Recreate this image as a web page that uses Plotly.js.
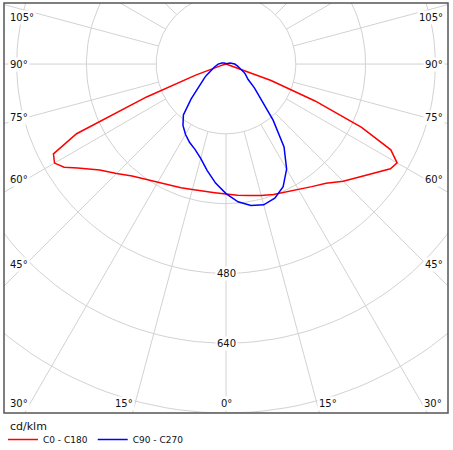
<!DOCTYPE html>
<html><head><meta charset="utf-8">
<script src="https://cdn.plot.ly/plotly-3.0.1.min.js"></script>
<style>html,body{margin:0;padding:0;background:#fff;} #chart{width:453px;height:450px;}</style>
</head><body><div id="chart"></div>
<script>
// ---- data ----
const gamma = [0,5,10,15,20,25,30,35,40,45,50,55,57.5,60,62.5,65,67.5,70,72.5,75,80,85,90,105,120,135,150,165,180];
const c0    = [300,302,306,312,318,324,332,343,357,380,402,431,447,453,426,343,221,110,22,8,3,1,0,0,0,0,0,0,0];
const c180  = [298,296,295,298,302,307,313,322,335,355,378,415,440,454,446,378,197,74,14,6,3,1,0,0,0,0,0,0,0];
const c90   = [297,317,329,334,327,310,278,232,168,115,85,62,58,54,50,46,42,38,34,31,27,23,20,10,5,3,2,1,0];
const c270  = [297,274,248,224,208,198,186,172,152,113,82,64,58,52,46,41,37,33,30,28,25,21,18,10,5,3,2,1,0];
const ringValues = [160,320,480,640,800];
const ringLabels = [480,640];
const spokeAngles = [0,15,30,45,60,75,90,105,120,135,150,165,180,195,210,225,240,255,270,285,300,315,330,345];
const angleLabels = [0,15,30,45,60,75,90,105];
const unitLabel = 'cd/klm';
const seriesNames = ['C0 - C180','C90 - C270'];

// ---- helpers ----
const rad = d => d*Math.PI/180;
const FONT = 'DejaVu Sans, Verdana, sans-serif';
const XR = [-509,509], YR = [-800,140];
const W = 453, H = 450, ML = 4, MR = 5, MT = 3, MB = 37;
const pxPerUnit = (W-ML-MR)/(XR[1]-XR[0]);
const plotH = H - MT - MB;

function halfCurve(right, left){
  const xs=[], ys=[];
  for(let i=gamma.length-1;i>=0;i--){ const g=rad(gamma[i]); xs.push(-left[i]*Math.sin(g)); ys.push(-left[i]*Math.cos(g)); }
  for(let i=1;i<gamma.length;i++){ const g=rad(gamma[i]); xs.push(right[i]*Math.sin(g)); ys.push(-right[i]*Math.cos(g)); }
  return {xs, ys};
}

const traces = [];
const gridStyle = {color:'#d2d2d2', width:1};
ringValues.forEach(r=>{
  const xs=[], ys=[];
  for(let t=0;t<=360;t+=2){ xs.push(r*Math.sin(rad(t))); ys.push(-r*Math.cos(rad(t))); }
  traces.push({type:'scatter', mode:'lines', x:xs, y:ys, line:gridStyle, hoverinfo:'skip', showlegend:false});
});
(function(){
  const xs=[], ys=[]; const r0=ringValues[0], r1=1100;
  spokeAngles.forEach(a=>{ const g=rad(a);
    xs.push(r0*Math.sin(g), r1*Math.sin(g), null); ys.push(-r0*Math.cos(g), -r1*Math.cos(g), null); });
  traces.push({type:'scatter', mode:'lines', x:xs, y:ys, line:gridStyle, hoverinfo:'skip', showlegend:false});
})();
const red = halfCurve(c0, c180);
const blue = halfCurve(c90, c270);
traces.push({type:'scatter', mode:'lines', name:seriesNames[0], x:red.xs, y:red.ys, line:{color:'#ff0000', width:1.5}});
traces.push({type:'scatter', mode:'lines', name:seriesNames[1], x:blue.xs, y:blue.ys, line:{color:'#0000ff', width:1.5}});

// ---- labels ----
const annotations = [];
const sideX = XR[1] - 3.5/pxPerUnit;
const rayX = 200/pxPerUnit;
const bottomY = YR[0] + 10/pxPerUnit;
const topY = YR[1] - 14/pxPerUnit;
const lf = {family:FONT, size:10, color:'#111'};
angleLabels.forEach(a=>{
  const g=rad(a); const txt=a+'°';
  const ySide = -rayX*Math.cos(g)/Math.sin(g);
  if(a===0){
    annotations.push({x:0, y:bottomY, text:txt, showarrow:false, xanchor:'center', yanchor:'middle', bgcolor:'#fff', font:lf});
  } else if(ySide < bottomY){
    const xb = -bottomY*Math.tan(g);
    [-1,1].forEach(s=>annotations.push({x:s*xb, y:bottomY, text:txt, showarrow:false, xanchor:s<0?'right':'left', yanchor:'middle', bgcolor:'#fff', font:lf}));
  } else {
    const y = Math.min(ySide, topY);
    [-1,1].forEach(s=>annotations.push({x:s*sideX, y:y, text:txt, showarrow:false, xanchor:s<0?'left':'right', yanchor:'middle', bgcolor:'#fff', font:lf}));
  }
});
ringLabels.forEach(r=>annotations.push({x:0, y:-r, text:String(r), showarrow:false, xanchor:'center', yanchor:'middle', bgcolor:'#fff', font:lf}));
// unit label under the frame (paper coords, below the plot area)
const pyPaper = px => 1 - (px - MT)/plotH;
const pxPaper = px => (px - ML)/(W-ML-MR);
annotations.push({xref:'paper', yref:'paper', x:pxPaper(8), y:pyPaper(426.5), text:unitLabel, showarrow:false,
  xanchor:'left', yanchor:'middle', font:{family:FONT, size:11, color:'#111'}});

const layout = {
  width:W, height:H,
  margin:{l:ML, r:MR, t:MT, b:MB, pad:0},
  paper_bgcolor:'#fff', plot_bgcolor:'#fff',
  font:{family:FONT, size:10, color:'#111'},
  xaxis:{range:XR, visible:false, fixedrange:true},
  yaxis:{range:YR, visible:false, fixedrange:true},
  showlegend:true,
  legend:{orientation:'h', xref:'container', yref:'container', x:3/W, xanchor:'left', y:1-425/H, yanchor:'top',
          bgcolor:'rgba(0,0,0,0)', font:{family:FONT, size:9, color:'#111'}, tracegroupgap:0, itemwidth:30},
  shapes:[{type:'rect', xref:'paper', yref:'paper', x0:0, x1:1, y0:0, y1:1, line:{color:'#555', width:1.5}, layer:'above'}],
  annotations: annotations
};
Plotly.newPlot('chart', traces, layout, {staticPlot:true, displayModeBar:false});
</script></body></html>
